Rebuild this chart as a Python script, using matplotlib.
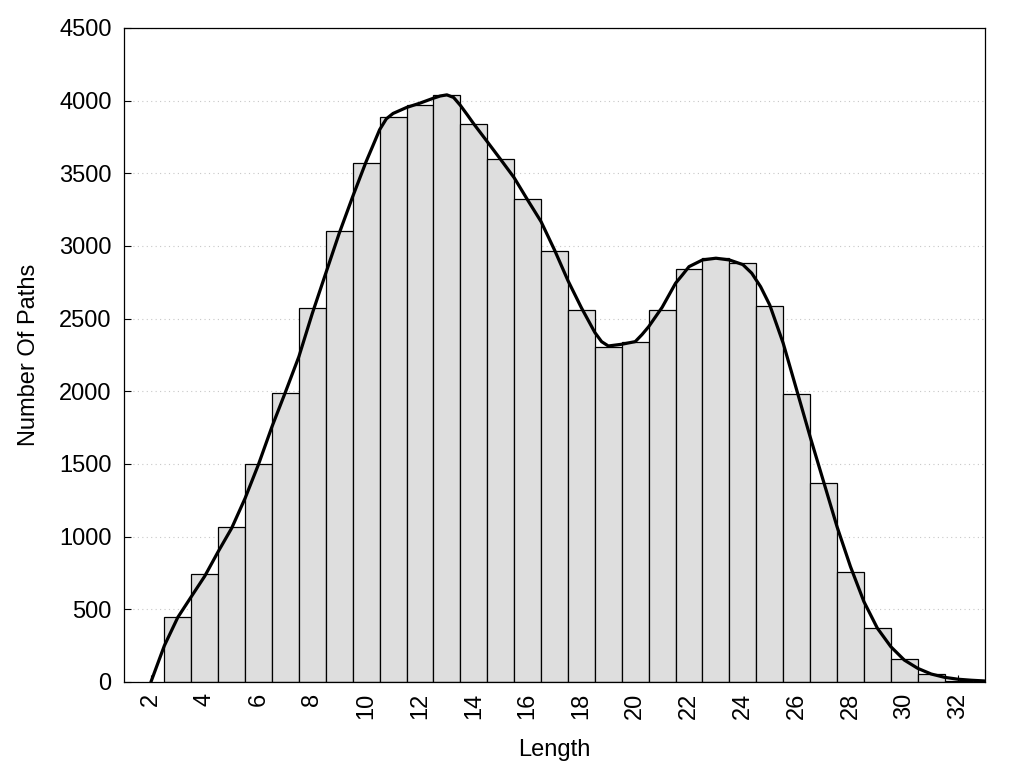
import matplotlib
matplotlib.use("Agg")
import matplotlib.pyplot as plt

plt.rcParams['font.family'] = ['Liberation Sans', 'DejaVu Sans']

# Histogram bars (path length -> count)
lengths = [3, 4, 5, 6, 7, 8, 9, 10, 11, 12, 13, 14, 15, 16, 17, 18, 19, 20,
           21, 22, 23, 24, 25, 26, 27, 28, 29, 30, 31, 32]
counts = [445, 743, 1065, 1498, 1989, 2572, 3102, 3570, 3891, 3973, 4037, 3838,
          3601, 3322, 2964, 2558, 2308, 2338, 2558, 2840, 2916, 2886, 2586, 1980,
          1367, 759, 370, 156, 53, 10]

# Smoothed curve
curve_x = [2.0, 2.5, 3.0, 3.5, 4.0, 4.5, 5.0, 5.5, 6.0, 6.5, 7.0, 7.5, 8.0, 8.5,
           9.0, 9.5, 10.0, 10.25, 10.5, 10.75, 11.0, 11.5, 12.0, 12.5, 12.75, 13.0,
           13.25, 13.5, 13.75, 14.0, 14.5, 15.0, 15.5, 16.0, 16.5, 17.0, 17.5, 18.0,
           18.5, 18.75, 19.0, 19.5, 20.0, 20.25, 20.5, 21.0, 21.5, 21.75, 22.0, 22.5,
           23.0, 23.5, 24.0, 24.33, 24.66, 25.0, 25.5, 26.0, 26.5, 27.0, 27.5, 28.0,
           28.5, 29.0, 29.5, 30.0, 30.5, 31.0, 31.5, 32.0, 32.5, 33.0]
curve_y = [0, 250, 445, 587, 728, 897, 1058, 1264, 1498, 1757, 1995, 2239, 2537, 2813,
           3088, 3340, 3581, 3690, 3800, 3875, 3912, 3953, 3983, 4017, 4032, 4040,
           4022, 3968, 3905, 3840, 3718, 3595, 3470, 3317, 3168, 2973, 2762, 2575,
           2405, 2342, 2312, 2324, 2342, 2390, 2445, 2578, 2744, 2800, 2858, 2904,
           2916, 2904, 2872, 2813, 2720, 2594, 2331, 2010, 1688, 1379, 1069, 794,
           553, 370, 243, 151, 94, 55, 32, 19, 12, 7]

y_ticks = [0, 500, 1000, 1500, 2000, 2500, 3000, 3500, 4000, 4500]
x_ticks = [2, 4, 6, 8, 10, 12, 14, 16, 18, 20, 22, 24, 26, 28, 30, 32]

fig = plt.figure(figsize=(10.24, 7.68), dpi=100)
ax = fig.add_axes([124/1024, 1 - 682/768, (985-124)/1024, (682-28)/768])

ax.set_axisbelow(True)
ax.yaxis.grid(True, linestyle=(0, (1, 3)), color='#c8c8c8', linewidth=0.8)
ax.bar(lengths, counts, width=1.0, color='#dedede', edgecolor='black', linewidth=0.9, zorder=2)
ax.plot(curve_x, curve_y, color='black', linewidth=2.3, zorder=3,
        solid_joinstyle='round', solid_capstyle='round')

ax.set_xlim(1, 33)
ax.set_ylim(0, 4500)
ax.set_xticks(x_ticks)
ax.set_xticklabels([str(t) for t in x_ticks], rotation=90)
ax.set_yticks(y_ticks)
ax.tick_params(direction='in', length=5, width=0.8, labelsize=17)
ax.tick_params(axis='y', pad=9)
ax.tick_params(axis='x', pad=8)
for s in ax.spines.values():
    s.set_linewidth(0.9)

ax.set_xlabel('Length', fontsize=17, labelpad=14)
ax.set_ylabel('Number Of Paths', fontsize=17, labelpad=14)

fig.savefig('out.png', dpi=100)
